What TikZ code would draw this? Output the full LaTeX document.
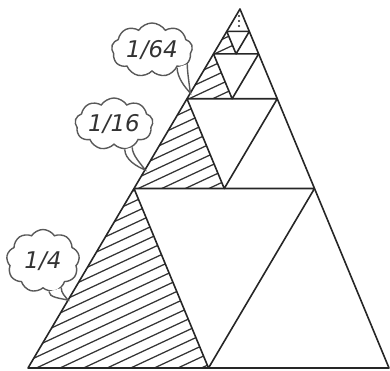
\documentclass[tikz,border=0pt]{standalone}
\usepackage{fontspec}
\setmainfont{DejaVu Sans}
\usetikzlibrary{shapes.symbols, calc}

\begin{document}
\begin{tikzpicture}[x=1pt, y=-1pt,
  edge/.style={draw=black!85, line width=1.6pt, line join=round},
  hatch/.style={draw=black!80, line width=1.25pt},
  bubble/.style={cloud, cloud puffs=9, cloud puff arc=115, cloud ignores aspect, draw=black!65, line width=1.4pt, fill=white, inner sep=0pt, font=\fontsize{23}{25}\selectfont\itshape, text=black!80},
  tail/.style={draw=black!65, line width=1.4pt}
]
\useasboundingbox (0,0) rectangle (390,371);

% Outer triangle
\coordinate (A1) at (28,368);
\coordinate (B1) at (389,368);
\coordinate (C) at (240,9);

% Halve each side towards the apex
\foreach \k [count=\n from 2] in {1,...,4} {
  \coordinate (A\n) at ($(A\k)!0.5!(C)$);
  \coordinate (B\n) at ($(B\k)!0.5!(C)$);
  \coordinate (M\k) at ($(A\k)!0.5!(B\k)$);
}

% Hatched triangles
\foreach \k [count=\n from 2] in {1,...,4} {
  \begin{scope}
    \clip (A\k) -- (M\k) -- (A\n) -- cycle;
    \foreach \i in {0,...,44}
      \draw[hatch] (0,\i*11) -- ++(420,-196);
  \end{scope}
}

% Inner lines
\foreach \k [count=\n from 2] in {1,...,4}
  \draw[edge] (A\n) -- (B\n) (A\n) -- (M\k) -- (B\n);

% Outline
\draw[edge] (A1) -- (B1) -- (C) -- cycle;

% Dots in the top triangle
\foreach \y in {16,21,26}
  \fill[black!85] (239,\y) circle (1.2);

% Clouds
\node[bubble, minimum width=81, minimum height=54] (q64) at (152,50) {1/64};
\node[bubble, minimum width=78, minimum height=52] (q16) at (114,124) {1/16};
\node[bubble, minimum width=73, minimum height=63] (q4) at (43,261) {1/4};

% Tail tips on the left side
\coordinate (t64) at ($(A1)!0.766!(C)$);
\coordinate (t16) at ($(A1)!0.552!(C)$);
\coordinate (t4) at ($(A1)!0.189!(C)$);

% Tails
\fill[white] (q64.-35) .. controls +(0,10) and +(-5,-5) .. (t64) .. controls +(-1,-8) and +(0,8) .. (q64.-22) -- cycle;
\draw[tail] (q64.-35) .. controls +(0,10) and +(-5,-5) .. (t64) .. controls +(-1,-8) and +(0,8) .. (q64.-22);

\fill[white] (q16.-67) .. controls +(0,10) and +(-8,-3) .. (t16) .. controls +(-4,-6) and +(0,8) .. (q16.-52) -- cycle;
\draw[tail] (q16.-67) .. controls +(0,10) and +(-8,-3) .. (t16) .. controls +(-4,-6) and +(0,8) .. (q16.-52);

\fill[white] (q4.-79) .. controls +(0,6) and +(-8,-2) .. (t4) .. controls +(-3,-4) and +(0,5) .. (q4.-56) -- cycle;
\draw[tail] (q4.-79) .. controls +(0,6) and +(-8,-2) .. (t4) .. controls +(-3,-4) and +(0,5) .. (q4.-56);
\end{tikzpicture}
\end{document}
